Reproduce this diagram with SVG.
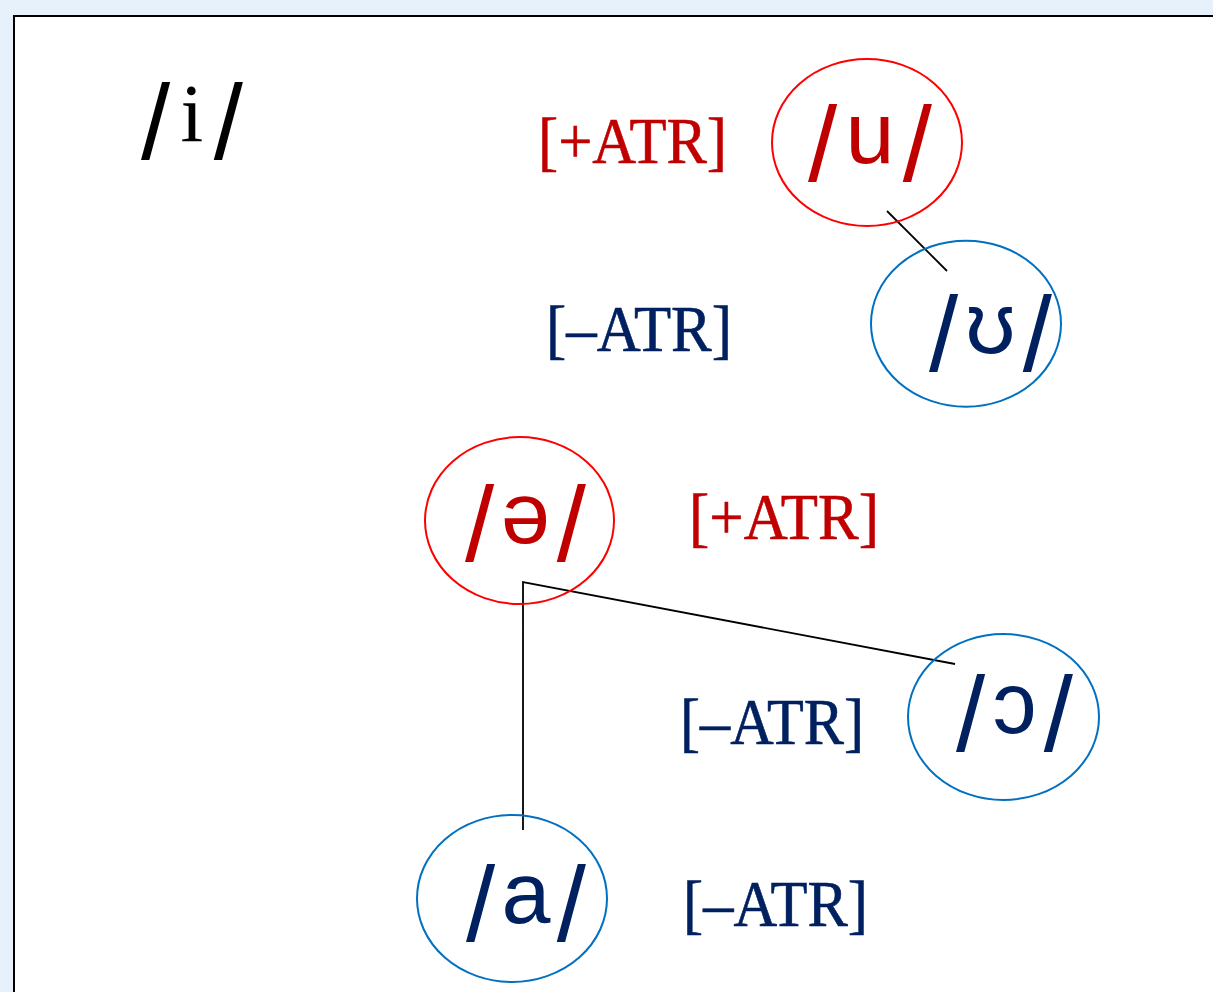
<svg xmlns="http://www.w3.org/2000/svg" width="1213" height="992" viewBox="0 0 1213 992">
<style>
.bg{fill:#e6f1fc}
.frame{fill:#ffffff;stroke:#000000;stroke-width:2}
.pos{fill:none;stroke:#ff0000;stroke-width:2}
.neg{fill:none;stroke:#0070c0;stroke-width:2}
.v{font-family:"Liberation Sans","DejaVu Sans",sans-serif;font-size:88px}
.sl{font-family:"Liberation Sans","DejaVu Sans",sans-serif;font-size:105px}
.ser{font-family:"Liberation Serif","DejaVu Serif",serif}
.lab{font-family:"Liberation Serif","DejaVu Serif",serif;font-size:66px;stroke-width:0.6}
.red{fill:#c00000}
.navy{fill:#002060}
.lab.red{stroke:#c00000}
.lab.navy{stroke:#002060}
.blk{fill:#000000}
.conn{fill:none;stroke:#000000;stroke-width:1.8}
</style>
<rect class="bg" x="0" y="0" width="1213" height="992"/>
<rect class="frame" x="14" y="16" width="1300" height="1100"/>
<g id="connectors">
<line class="conn" x1="887" y1="211" x2="947" y2="271"/>
<polyline class="conn" points="523,830 523,582 955,664"/>
</g>
<g id="node-i">
<text class="v blk" x="141" y="141" textLength="102" lengthAdjust="spacing"><tspan class="sl" dy="18">/</tspan><tspan class="ser" font-size="82" dy="-18">i</tspan><tspan class="sl" dy="18">/</tspan></text>
</g>
<g id="node-u">
<ellipse class="pos" cx="867" cy="142.5" rx="95" ry="83.5"/>
<text class="v red" x="808" y="163" textLength="124" lengthAdjust="spacing"><tspan class="sl" dy="18">/</tspan><tspan dy="-18">u</tspan><tspan class="sl" dy="18">/</tspan></text>
</g>
<g id="node-upsilon">
<ellipse class="neg" cx="966" cy="323.7" rx="95" ry="83"/>
<text class="v navy" x="929" y="353" textLength="123" lengthAdjust="spacing"><tspan class="sl" dy="18">/</tspan><tspan dy="-18">ʊ</tspan><tspan class="sl" dy="18">/</tspan></text>
</g>
<g id="node-schwa">
<ellipse class="pos" cx="519.5" cy="520.5" rx="94.5" ry="83.5"/>
<text class="v red" x="465" y="543" textLength="121" lengthAdjust="spacing"><tspan class="sl" dy="18">/</tspan><tspan dy="-18">ə</tspan><tspan class="sl" dy="18">/</tspan></text>
</g>
<g id="node-open-o">
<ellipse class="neg" cx="1003.5" cy="717" rx="95.5" ry="83"/>
<text class="v navy" x="956" y="733" textLength="117" lengthAdjust="spacing"><tspan class="sl" dy="18">/</tspan><tspan dy="-18">ɔ</tspan><tspan class="sl" dy="18">/</tspan></text>
</g>
<g id="node-a">
<ellipse class="neg" cx="512" cy="898.5" rx="95" ry="83.5"/>
<text class="v navy" x="466" y="923" textLength="120" lengthAdjust="spacing"><tspan class="sl" dy="18">/</tspan><tspan dy="-18">a</tspan><tspan class="sl" dy="18">/</tspan></text>
</g>
<g id="labels">
<text class="lab red" x="538" y="163" textLength="189" lengthAdjust="spacingAndGlyphs">[+ATR]</text>
<text class="lab navy" x="546" y="351" textLength="186" lengthAdjust="spacingAndGlyphs">[–ATR]</text>
<text class="lab red" x="689" y="539" textLength="190" lengthAdjust="spacingAndGlyphs">[+ATR]</text>
<text class="lab navy" x="680" y="744" textLength="184" lengthAdjust="spacingAndGlyphs">[–ATR]</text>
<text class="lab navy" x="683" y="926" textLength="185" lengthAdjust="spacingAndGlyphs">[–ATR]</text>
</g>
</svg>
